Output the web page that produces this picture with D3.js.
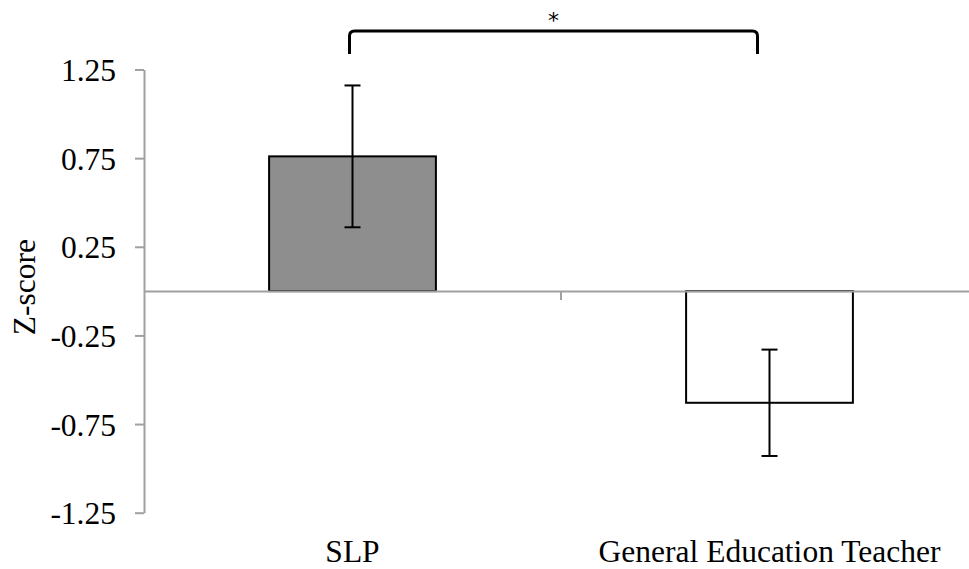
<!DOCTYPE html>
<html>
<head>
<meta charset="utf-8">
<script src="https://cdn.jsdelivr.net/npm/d3@7/dist/d3.min.js"></script>
<style>
  html, body { margin: 0; padding: 0; background: #fff; }
  svg { display: block; }
  text { font-family: "Liberation Serif", "Times New Roman", serif; fill: #000; }
</style>
</head>
<body>
<svg id="chart" width="969" height="569"></svg>
<script>
const categories = ["SLP", "General Education Teacher"];
const means = [0.76, -0.63];
const errors = [0.40, 0.30];
const fills = ["#8e8e8e", "#ffffff"];
const yTicks = [1.25, 0.75, 0.25, -0.25, -0.75, -1.25];
const yTickLabels = ["1.25", "0.75", "0.25", "-0.25", "-0.75", "-1.25"];
const sigLabel = "*";
const yTitle = "Z-score";

const svg = d3.select("#chart");
const plotLeft = 144, plotRight = 978, plotTop = 69.5, plotBottom = 512.7;
const fontSize = "31.5px";

const x = d3.scaleBand().domain(categories).range([plotLeft, plotRight]).paddingInner(0).paddingOuter(0);
const y = d3.scaleLinear().domain([-1.25, 1.25]).range([plotBottom, plotTop]);
const barW = x.bandwidth() * 0.4;
const axisColor = "#a0a0a0";

// Y axis
const yAxis = d3.axisLeft(y).tickValues(yTicks).tickSize(9).tickSizeOuter(0)
  .tickFormat((d, i) => yTickLabels[i]);
const gy = svg.append("g").attr("transform", `translate(${plotLeft},0)`).call(yAxis);
gy.select(".domain").attr("stroke", axisColor).attr("stroke-width", 2);
gy.selectAll(".tick line").attr("stroke", axisColor).attr("stroke-width", 2);
gy.selectAll(".tick text").attr("x", -28).attr("dy", "0.35em")
  .style("font-size", fontSize).style("font-family", "Liberation Serif, serif").attr("fill", "#000");

// Bars
svg.selectAll("rect.bar").data(categories).enter().append("rect")
  .attr("class", "bar")
  .attr("x", d => x(d) + (x.bandwidth() - barW) / 2)
  .attr("width", barW)
  .attr("y", (d, i) => Math.min(y(means[i]), y(0)))
  .attr("height", (d, i) => Math.abs(y(means[i]) - y(0)))
  .attr("fill", (d, i) => fills[i])
  .attr("stroke", "#000").attr("stroke-width", 2);

// Zero (category) axis
const xAxis = d3.axisBottom(x).tickSize(0).tickFormat("");
const gx = svg.append("g").attr("transform", `translate(0,${y(0)})`).call(xAxis);
gx.select(".domain").attr("stroke", axisColor).attr("stroke-width", 2);
gx.selectAll(".tick").remove();
const bounds = categories.slice(1).map(c => x(c));
gx.selectAll("line.bt").data(bounds).enter().append("line")
  .attr("x1", d => d).attr("x2", d => d).attr("y1", 0).attr("y2", 9)
  .attr("stroke", axisColor).attr("stroke-width", 2);

// Error bars
const eb = svg.append("g").attr("stroke", "#000").attr("stroke-width", 2);
categories.forEach((c, i) => {
  const cx = x(c) + x.bandwidth() / 2;
  const y1 = y(means[i] + errors[i]), y2 = y(means[i] - errors[i]);
  eb.append("line").attr("x1", cx).attr("x2", cx).attr("y1", y1).attr("y2", y2);
  eb.append("line").attr("x1", cx - 8).attr("x2", cx + 8).attr("y1", y1).attr("y2", y1);
  eb.append("line").attr("x1", cx - 8).attr("x2", cx + 8).attr("y1", y2).attr("y2", y2);
});

// Category labels
svg.selectAll("text.cat").data(categories).enter().append("text")
  .attr("class", "cat")
  .attr("x", d => x(d) + x.bandwidth() / 2)
  .attr("y", 562)
  .attr("text-anchor", "middle")
  .style("font-size", fontSize)
  .text(d => d);

// Y title
svg.append("text")
  .attr("transform", `translate(35,${y(0) - 4}) rotate(-90)`)
  .attr("text-anchor", "middle")
  .style("font-size", fontSize)
  .text(yTitle);

// Significance bracket
const bx1 = x(categories[0]) + x.bandwidth() / 2 - 3;
const bx2 = x(categories[1]) + x.bandwidth() / 2 - 12;
const byTop = 31, byBot = 54, r = 5;
svg.append("path")
  .attr("d", `M${bx1},${byBot} L${bx1},${byTop + r} Q${bx1},${byTop} ${bx1 + r},${byTop} L${bx2 - r},${byTop} Q${bx2},${byTop} ${bx2},${byTop + r} L${bx2},${byBot}`)
  .attr("fill", "none").attr("stroke", "#000").attr("stroke-width", 3);
svg.append("text")
  .attr("x", (bx1 + bx2) / 2).attr("y", 28)
  .attr("text-anchor", "middle")
  .style("font-size", "22px")
  .style("font-family", "DejaVu Sans, sans-serif")
  .text(sigLabel);
</script>
</body>
</html>
